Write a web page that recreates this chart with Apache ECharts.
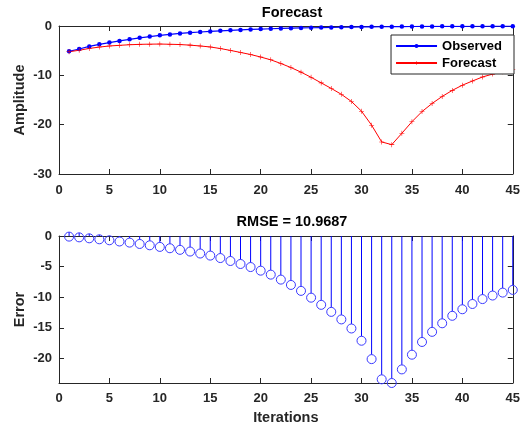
<!DOCTYPE html>
<html>
<head>
<meta charset="utf-8">
<script src="https://cdn.jsdelivr.net/npm/echarts@6/dist/echarts.min.js"></script>
<style>html,body{margin:0;padding:0;background:#fff}#c{width:523px;height:428px}</style>
</head>
<body>
<div id="c"></div>
<script>
const iterations = [1,2,3,4,5,6,7,8,9,10,11,12,13,14,15,16,17,18,19,20,21,22,23,24,25,26,27,28,29,30,31,32,33,34,35,36,37,38,39,40,41,42,43,44,45];
const observed = [-5.13,-4.67,-4.14,-3.72,-3.36,-3.03,-2.71,-2.40,-2.15,-1.90,-1.70,-1.51,-1.36,-1.22,-1.10,-0.98,-0.88,-0.79,-0.70,-0.63,-0.56,-0.50,-0.44,-0.39,-0.35,-0.31,-0.28,-0.25,-0.22,-0.19,-0.17,-0.15,-0.13,-0.12,-0.10,-0.09,-0.08,-0.07,-0.06,-0.06,-0.05,-0.05,-0.04,-0.04,-0.03];
const forecast = [-5.22,-4.92,-4.55,-4.27,-4.05,-3.92,-3.80,-3.72,-3.68,-3.66,-3.70,-3.76,-3.88,-4.05,-4.25,-4.57,-4.95,-5.36,-5.78,-6.29,-6.86,-7.60,-8.42,-9.35,-10.40,-11.53,-12.65,-13.85,-15.30,-17.27,-20.10,-23.50,-24.05,-21.75,-19.40,-17.35,-15.70,-14.28,-13.05,-12.00,-11.15,-10.33,-9.75,-9.27,-8.85];
const errorVals = [-0.10,-0.22,-0.38,-0.54,-0.70,-0.90,-1.08,-1.30,-1.52,-1.78,-2.00,-2.26,-2.54,-2.86,-3.20,-3.60,-4.08,-4.57,-5.07,-5.66,-6.31,-7.12,-7.99,-8.96,-10.07,-11.24,-12.39,-13.62,-15.10,-17.10,-20.10,-23.40,-24.00,-21.78,-19.38,-17.30,-15.65,-14.25,-13.03,-11.96,-11.10,-10.30,-9.72,-9.24,-8.80];
const xTicks = [0,5,10,15,20,25,30,35,40,45];
const ampTicks = [-30,-20,-10,0];
const errTicks = [-20,-15,-10,-5,0];
const errMin = -24.0;
const topTitle = 'Forecast';
const bottomTitle = 'RMSE = 10.9687';

const axisColor = '#262626';
const font = 'Liberation Sans, Arial, sans-serif';
const lbl = {color: axisColor, fontFamily: font, fontWeight: 'bold', fontSize: 13};

function xAx(grid, pos, showLabel, margin, name) {
  return {
    type: 'value', gridIndex: grid, position: pos, min: xTicks[0], max: xTicks[xTicks.length-1],
    axisLine: {show: true, onZero: false, lineStyle: {color: axisColor, width: 1}},
    axisTick: {show: true, inside: true, length: 5, customValues: xTicks, lineStyle: {color: axisColor}},
    axisLabel: Object.assign({show: showLabel, customValues: xTicks, margin: margin}, lbl),
    splitLine: {show: false},
    name: name || '', nameLocation: 'middle', nameGap: 27, nameMoveOverlap: false,
    nameTextStyle: {color: axisColor, fontFamily: font, fontWeight: 'bold', fontSize: 14.5}
  };
}
function yAx(grid, pos, showLabel, min, max, ticks, name) {
  return {
    type: 'value', gridIndex: grid, position: pos, min: min, max: max,
    axisLine: {show: true, onZero: false, lineStyle: {color: axisColor, width: 1}},
    axisTick: {show: true, inside: true, length: 5, customValues: ticks, lineStyle: {color: axisColor}},
    axisLabel: Object.assign({show: showLabel, customValues: ticks, margin: 7}, lbl),
    splitLine: {show: false},
    name: name || '', nameLocation: 'middle', nameGap: 32, nameMoveOverlap: false,
    nameTextStyle: {color: axisColor, fontFamily: font, fontWeight: 'bold', fontSize: 14.5}
  };
}

const plusPath = 'path://M4,0h1v4h4v1h-4v4h-1v-4h-4v-1h4z';

const chart = echarts.init(document.getElementById('c'), null, {renderer: 'canvas'});
chart.setOption({
  animation: false,
  backgroundColor: '#ffffff',
  title: [
    {text: topTitle, left: 287, top: 0, textAlign: 'center',
     textStyle: {color: '#000', fontFamily: font, fontWeight: 'bold', fontSize: 14.5}},
    {text: bottomTitle, left: 287, top: 209, textAlign: 'center',
     textStyle: {color: '#000', fontFamily: font, fontWeight: 'bold', fontSize: 14.5}}
  ],
  grid: [
    {left: 59, right: 7, top: 26, height: 148},
    {left: 59, right: 7, top: 236, height: 147}
  ],
  legend: {
    show: true, orient: 'vertical', right: 9, top: 35,
    data: ['Observed', 'Forecast'],
    backgroundColor: '#ffffff', borderColor: axisColor, borderWidth: 1, borderRadius: 0,
    padding: [4, 12, 4, 4], itemGap: 3, itemWidth: 41, itemHeight: 5,
    textStyle: {color: '#000', fontFamily: font, fontWeight: 'bold', fontSize: 13, lineHeight: 14}
  },
  xAxis: [
    xAx(0, 'bottom', true, 10),
    xAx(0, 'top', false, 8),
    xAx(1, 'bottom', true, 9, 'Iterations'),
    xAx(1, 'top', false, 8)
  ],
  yAxis: [
    yAx(0, 'left', true, ampTicks[0], ampTicks[ampTicks.length-1], ampTicks, 'Amplitude'),
    yAx(0, 'right', false, ampTicks[0], ampTicks[ampTicks.length-1], ampTicks),
    yAx(1, 'left', true, errMin, 0, errTicks, 'Error'),
    yAx(1, 'right', false, errMin, 0, errTicks)
  ],
  series: [
    {
      name: 'Observed', type: 'line', xAxisIndex: 0, yAxisIndex: 0,
      data: iterations.map((x, i) => [x, observed[i]]),
      lineStyle: {color: '#0000ff', width: 1.2}, itemStyle: {color: '#0000ff'},
      symbol: 'circle', symbolSize: 4.5, showSymbol: true
    },
    {
      name: 'Forecast', type: 'line', xAxisIndex: 0, yAxisIndex: 0,
      data: iterations.map((x, i) => [x, forecast[i]]),
      lineStyle: {color: '#ff0000', width: 1}, itemStyle: {color: '#ff0000'},
      symbol: plusPath, symbolSize: 5, showSymbol: true
    },
    {
      name: 'ErrorStem', type: 'custom', xAxisIndex: 2, yAxisIndex: 2,
      data: iterations.map((x, i) => [x, errorVals[i]]),
      clip: false,
      renderItem: function (params, api) {
        const x = api.value(0), y = api.value(1);
        const p0 = api.coord([x, 0]);
        const p1 = api.coord([x, y]);
        return {
          type: 'group',
          children: [
            {type: 'line', shape: {x1: p0[0], y1: p0[1], x2: p1[0], y2: p1[1] - 4.5},
             style: {stroke: '#0000ff', lineWidth: 1}},
            {type: 'circle', shape: {cx: p1[0], cy: p1[1], r: 4.5},
             style: {fill: 'none', stroke: '#3a3aff', lineWidth: 1}}
          ]
        };
      }
    }
  ]
});
</script>
</body>
</html>
